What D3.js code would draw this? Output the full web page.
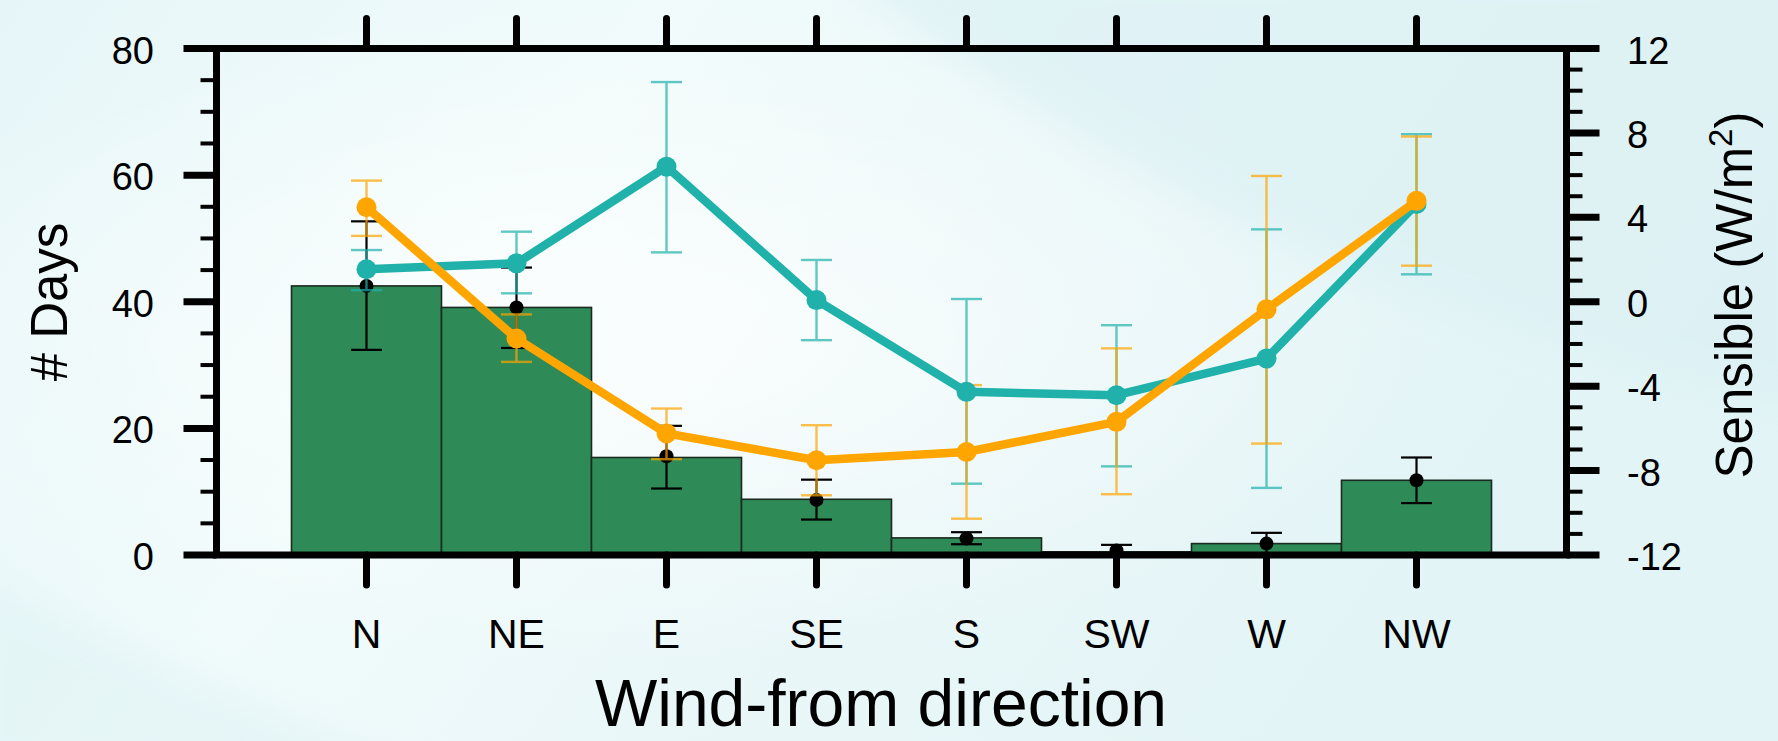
<!DOCTYPE html>
<html>
<head>
<meta charset="utf-8">
<script src="https://cdn.jsdelivr.net/npm/d3@7"></script>
<style>
  html, body { margin: 0; padding: 0; background: #e8f6f8; }
  svg { display: block; }
  text { font-family: "Liberation Sans", Arial, Helvetica, sans-serif; fill: #000; }
</style>
</head>
<body>
<svg id="chart" width="1778" height="741"></svg>
<script>
// Wind-from direction categories
const directions = ["N", "NE", "E", "SE", "S", "SW", "W", "NW"];

// Number of days per direction (bars) with mean and spread (black markers)
const daysCount = [42.5, 39.1, 15.4, 8.8, 2.7, 0.5, 1.8, 11.8];
const daysMean  = [42.5, 39.1, 15.6, 8.7, 2.6, 0.7, 1.8, 11.8];
const daysHigh  = [52.7, 45.4, 20.4, 11.9, 3.6, 1.6, 3.5, 15.4];
const daysLow   = [32.4, 32.7, 10.5, 5.6, 1.7, 0.0, 0.3, 8.2];

// Sensible heat flux, first series (teal)
const sensTeal     = [1.54, 1.82, 6.40, 0.08, -4.27, -4.43, -2.69, 4.63];
const sensTealHigh = [2.45, 3.32, 10.41, 1.98, 0.13, -1.11, 3.43, 7.94];
const sensTealLow  = [0.55, 0.40, 2.34, -1.82, -8.62, -7.80, -8.82, 1.30];

// Sensible heat flux, second series (orange)
const sensOrange     = [4.48, -1.74, -6.24, -7.51, -7.12, -5.69, -0.36, 4.78];
const sensOrangeHigh = [5.74, -0.60, -5.06, -5.85, -3.95, -2.21, 5.96, 7.83];
const sensOrangeLow  = [3.12, -2.85, -7.46, -9.17, -10.28, -9.12, -6.72, 1.71];

// Axis ticks
const daysMajor = [0, 20, 40, 60, 80];
const daysMinor = d3.range(0, 81, 5);
const sensMajor = [-12, -8, -4, 0, 4, 8, 12];
const sensMinor = d3.range(-12, 13, 1);

const W = 1778, H = 741;
const svg = d3.select("#chart");

// ---- soft background ----
const defs = svg.append("defs");
const bgLin = defs.append("linearGradient").attr("id", "bgLin")
  .attr("x1", "0").attr("y1", "0").attr("x2", "1").attr("y2", "0.3");
bgLin.append("stop").attr("offset", "0").attr("stop-color", "#e6f6f8");
bgLin.append("stop").attr("offset", "0.35").attr("stop-color", "#f1fbfb");
bgLin.append("stop").attr("offset", "0.6").attr("stop-color", "#eaf7f8");
bgLin.append("stop").attr("offset", "1").attr("stop-color", "#e2f4f6");
const glow = defs.append("radialGradient").attr("id", "glow")
  .attr("cx", "0.35").attr("cy", "0.45").attr("r", "0.45");
glow.append("stop").attr("offset", "0").attr("stop-color", "#ffffff").attr("stop-opacity", 0.75);
glow.append("stop").attr("offset", "1").attr("stop-color", "#ffffff").attr("stop-opacity", 0);
defs.append("filter").attr("id", "soft").attr("x", "-20%").attr("y", "-20%").attr("width", "140%").attr("height", "140%")
  .append("feGaussianBlur").attr("stdDeviation", 18);

svg.append("rect").attr("width", W).attr("height", H).attr("fill", "url(#bgLin)");
svg.append("rect").attr("width", W).attr("height", H).attr("fill", "url(#glow)");
svg.append("path")
  .attr("d", "M820,-40 C960,60 1120,170 1300,250 C1480,330 1650,380 1820,420 L1820,-40 Z")
  .attr("fill", "#dcf1f4").attr("opacity", 0.7).attr("filter", "url(#soft)");
svg.append("path")
  .attr("d", "M-40,560 C120,640 260,700 420,780 L-40,780 Z")
  .attr("fill", "#dff3f5").attr("opacity", 0.6).attr("filter", "url(#soft)");

// ---- scales ----
const x = d3.scaleBand().domain(directions).range([291.5, 1491.5]).padding(0);
const bw = x.bandwidth();
const plotLeft = x.range()[0] - bw / 2, plotRight = x.range()[1] + bw / 2;
const plotTop = 48.5, plotBottom = 555;
const yDays = d3.scaleLinear().domain([0, 80]).range([plotBottom, plotTop]);
const ySens = d3.scaleLinear().domain([-12, 12]).range([plotBottom, plotTop]);
const cx = d => x(d) + bw / 2;

const teal = "#20b2aa", orange = "#ffa500", barGreen = "#2e8b57";

// ---- bars ----
svg.append("g").selectAll("rect").data(directions).join("rect")
  .attr("x", d => x(d)).attr("width", bw)
  .attr("y", (d, i) => yDays(daysCount[i]))
  .attr("height", (d, i) => yDays(0) - yDays(daysCount[i]))
  .attr("fill", barGreen).attr("stroke", "#1b2a20").attr("stroke-width", 1.6);

// error bar helper
function errorBars(g, hi, lo, scale, color, width, opacity) {
  const capW = 31;
  const grp = g.append("g").attr("stroke", color).attr("stroke-width", width).attr("opacity", opacity);
  directions.forEach((d, i) => {
    const px = cx(d);
    grp.append("line").attr("x1", px).attr("x2", px).attr("y1", scale(hi[i])).attr("y2", scale(lo[i]));
    grp.append("line").attr("x1", px - capW / 2).attr("x2", px + capW / 2).attr("y1", scale(hi[i])).attr("y2", scale(hi[i]));
    grp.append("line").attr("x1", px - capW / 2).attr("x2", px + capW / 2).attr("y1", scale(lo[i])).attr("y2", scale(lo[i]));
  });
}

// days spread and mean
errorBars(svg, daysHigh, daysLow, yDays, "#000", 2.2, 1);
svg.append("g").selectAll("circle").data(directions).join("circle")
  .attr("cx", d => cx(d)).attr("cy", (d, i) => yDays(daysMean[i])).attr("r", 7).attr("fill", "#000");

// sensible heat spreads
errorBars(svg, sensTealHigh, sensTealLow, ySens, teal, 2.4, 0.7);
errorBars(svg, sensOrangeHigh, sensOrangeLow, ySens, orange, 2.4, 0.7);

// sensible heat lines
function series(vals, color) {
  const line = d3.line().x((v, i) => cx(directions[i])).y(v => ySens(v));
  svg.append("path").datum(vals).attr("d", line)
    .attr("fill", "none").attr("stroke", color).attr("stroke-width", 8.5)
    .attr("stroke-linejoin", "round");
  svg.append("g").selectAll("circle").data(vals).join("circle")
    .attr("cx", (v, i) => cx(directions[i])).attr("cy", v => ySens(v))
    .attr("r", 10).attr("fill", color);
}
series(sensTeal, teal);
series(sensOrange, orange);

// ---- frame and ticks ----
const axisG = svg.append("g").attr("stroke", "#000");
axisG.append("rect").attr("x", plotLeft).attr("y", plotTop)
  .attr("width", plotRight - plotLeft).attr("height", plotBottom - plotTop)
  .attr("fill", "none").attr("stroke-width", 7);

// left axis ticks (outward)
axisG.selectAll(".lmin").data(daysMinor.filter(v => !daysMajor.includes(v))).join("line")
  .attr("x1", plotLeft - 16).attr("x2", plotLeft).attr("y1", v => yDays(v)).attr("y2", v => yDays(v)).attr("stroke-width", 4);
axisG.selectAll(".lmaj").data(daysMajor).join("line")
  .attr("x1", plotLeft - 33).attr("x2", plotLeft).attr("y1", v => yDays(v)).attr("y2", v => yDays(v)).attr("stroke-width", 7);
// right axis ticks
axisG.selectAll(".rmin").data(sensMinor.filter(v => !sensMajor.includes(v))).join("line")
  .attr("x1", plotRight).attr("x2", plotRight + 16).attr("y1", v => ySens(v)).attr("y2", v => ySens(v)).attr("stroke-width", 4);
axisG.selectAll(".rmaj").data(sensMajor).join("line")
  .attr("x1", plotRight).attr("x2", plotRight + 33).attr("y1", v => ySens(v)).attr("y2", v => ySens(v)).attr("stroke-width", 7);
// top and bottom category ticks
axisG.selectAll(".tt").data(directions).join("line")
  .attr("x1", d => cx(d)).attr("x2", d => cx(d)).attr("y1", plotTop).attr("y2", plotTop - 30)
  .attr("stroke-width", 7).attr("stroke-linecap", "round");
axisG.selectAll(".bt").data(directions).join("line")
  .attr("x1", d => cx(d)).attr("x2", d => cx(d)).attr("y1", plotBottom).attr("y2", plotBottom + 30)
  .attr("stroke-width", 7).attr("stroke-linecap", "round");

// ---- labels ----
svg.append("g").selectAll("text").data(daysMajor).join("text")
  .attr("x", 154).attr("y", v => yDays(v) + 15).attr("text-anchor", "end")
  .style("font-size", "38px").text(v => v);
svg.append("g").selectAll("text").data(sensMajor).join("text")
  .attr("x", 1627).attr("y", v => ySens(v) + 15).attr("text-anchor", "start")
  .style("font-size", "38px").text(v => v);
svg.append("g").selectAll("text").data(directions).join("text")
  .attr("x", d => cx(d)).attr("y", 648).attr("text-anchor", "middle")
  .style("font-size", "41px").text(d => d);

svg.append("text").attr("x", 881).attr("y", 726).attr("text-anchor", "middle")
  .style("font-size", "66px").text("Wind-from direction");

svg.append("text").attr("transform", "translate(67,302) rotate(-90)").attr("text-anchor", "middle")
  .style("font-size", "51px").text("# Days");

const sens = svg.append("text").attr("transform", "translate(1752,295) rotate(-90)").attr("text-anchor", "middle")
  .style("font-size", "51px");
sens.append("tspan").text("Sensible (W/m");
sens.append("tspan").attr("dy", -20).style("font-size", "33px").text("2");
sens.append("tspan").attr("dy", 20).text(")");
</script>
</body>
</html>
